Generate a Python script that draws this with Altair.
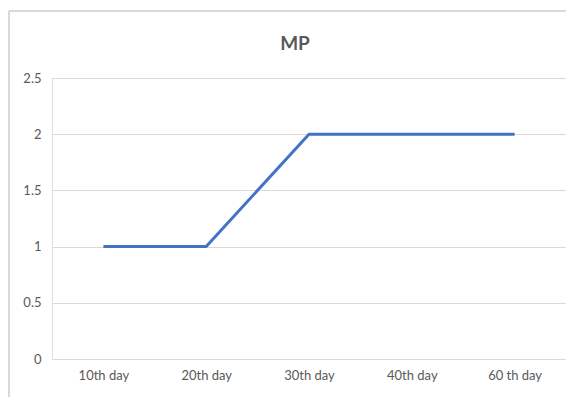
import altair as alt
import pandas as pd

days = ["10th day", "20th day", "30th day", "40th day", "60 th day"]
mp_values = [1, 1, 2, 2, 2]

df = pd.DataFrame({"day": days, "MP": mp_values})

FONT = "Lato"
GREY = "#595959"

line = alt.Chart(df).mark_line(color="#4472C4", strokeWidth=3, strokeCap="butt").encode(
    x=alt.X("day:N", sort=days, title=None,
            scale=alt.Scale(paddingInner=0, paddingOuter=0.5),
            axis=alt.Axis(labelAngle=0, ticks=False, domain=False, grid=False,
                          labelPadding=10, labelFontSize=13, labelColor=GREY,
                          labelFont=FONT)),
    y=alt.Y("MP:Q", title=None,
            scale=alt.Scale(domain=[0, 2.5], nice=False),
            axis=alt.Axis(values=[0, 0.5, 1, 1.5, 2, 2.5], format="~g", ticks=False,
                          domain=False, gridColor="#d9d9d9", gridWidth=1, labelPadding=11,
                          labelFontSize=13, labelColor=GREY, labelFont=FONT)),
)

border_left = alt.Chart(df).mark_rule(color="#d9d9d9", strokeWidth=1.5).encode(
    x=alt.value(-43), y=alt.value(-67), y2=alt.value(330)
)
border_top = alt.Chart(df).mark_rule(color="#d9d9d9", strokeWidth=1.5).encode(
    x=alt.value(-43), x2=alt.value(540), y=alt.value(-67)
)

chart = alt.layer(line, border_left, border_top).properties(
    width=514,
    height=281,
    autosize=alt.AutoSizeParams(type="none"),
    padding={"left": 44, "top": 70, "right": 0, "bottom": 38},
    title=alt.TitleParams("MP", fontSize=19, fontWeight="bold", color=GREY,
                          font=FONT, anchor="middle", dx=-14, offset=0, dy=44),
).configure_view(stroke=None).configure(background="white")

chart.save("out.html", embed_options={"renderer": "svg", "actions": False})
